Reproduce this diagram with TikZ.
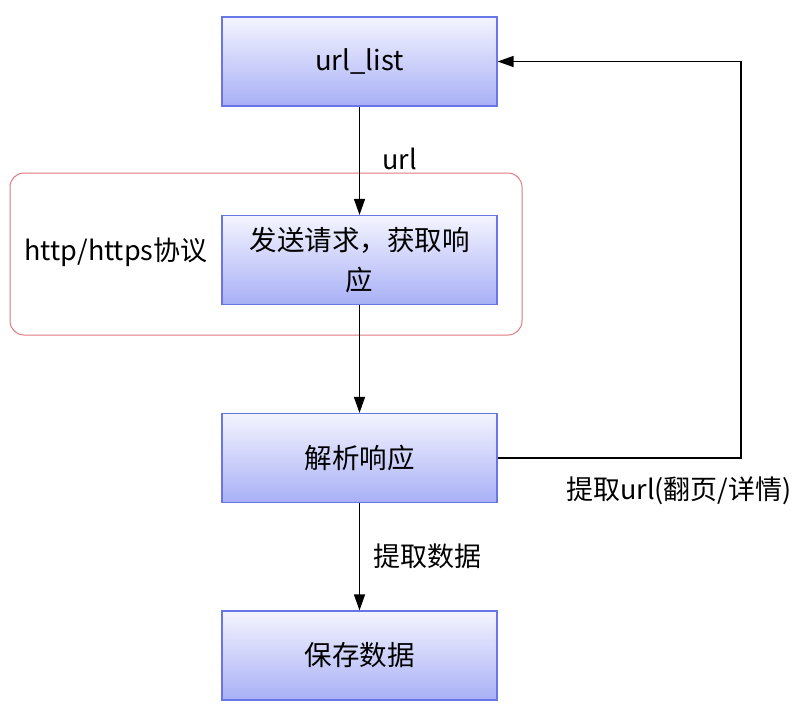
\documentclass[tikz,border=0pt]{standalone}
\usepackage{fontspec}
\setmainfont{Noto Sans CJK SC}
\usetikzlibrary{arrows.meta}

\definecolor{boxtop}{RGB}{244,244,254}
\definecolor{boxbottom}{RGB}{168,176,246}
\definecolor{boxline}{RGB}{104,118,232}
\definecolor{protoline}{RGB}{226,120,128}

\newcommand*{\colx}{359.5}
\newcommand*{\loopx}{741}

\begin{document}
\begin{tikzpicture}
[
	x=1pt, y=-1pt,
	stepbox/.style={rectangle,draw=boxline,line width=1.2pt,top color=boxtop,bottom color=boxbottom,
		minimum width=275pt,minimum height=89pt,inner sep=0pt,align=center,
		font=\fontsize{27.5}{40}\selectfont},
	flow/.style={-{Triangle[length=16pt,width=11pt]},line width=1.4pt},
	lbl/.style={font=\fontsize{27}{32}\selectfont,inner sep=0pt}
]

	\useasboundingbox[fill=white] (0,0) rectangle (803,709);

	% protocol frame
	\draw[protoline, line width=1pt, rounded corners=14pt] (10,173) rectangle (522,335);
	\node[lbl] at (116,252) (proto) {http/https协议};

	% boxes
	\node[stepbox] at (\colx,61.5) (urllist) {url\_list};
	\node[stepbox] at (\colx,260) (request) {发送请求，获取响\\应};
	\node[stepbox] at (\colx,458) (parse) {解析响应};
	\node[stepbox] at (\colx,655.5) (save) {保存数据};

	% main flow
	\draw[flow] (urllist) -- (request) node[lbl, pos=0.48, right=22pt] {url};
	\draw[flow] (request) -- (parse);
	\draw[flow] (parse) -- (save) node[lbl, pos=0.5, right=13pt] {提取数据};

	% page / detail loop
	\coordinate (loopbottom) at (\loopx,458);
	\coordinate (looptop) at (\loopx,61.5);
	\draw[flow] (parse.east) -- (loopbottom) -- (looptop) -- (urllist.east);
	\node[lbl] at (679,491) (nexturl) {提取url(翻页/详情)};

\end{tikzpicture}
\end{document}
